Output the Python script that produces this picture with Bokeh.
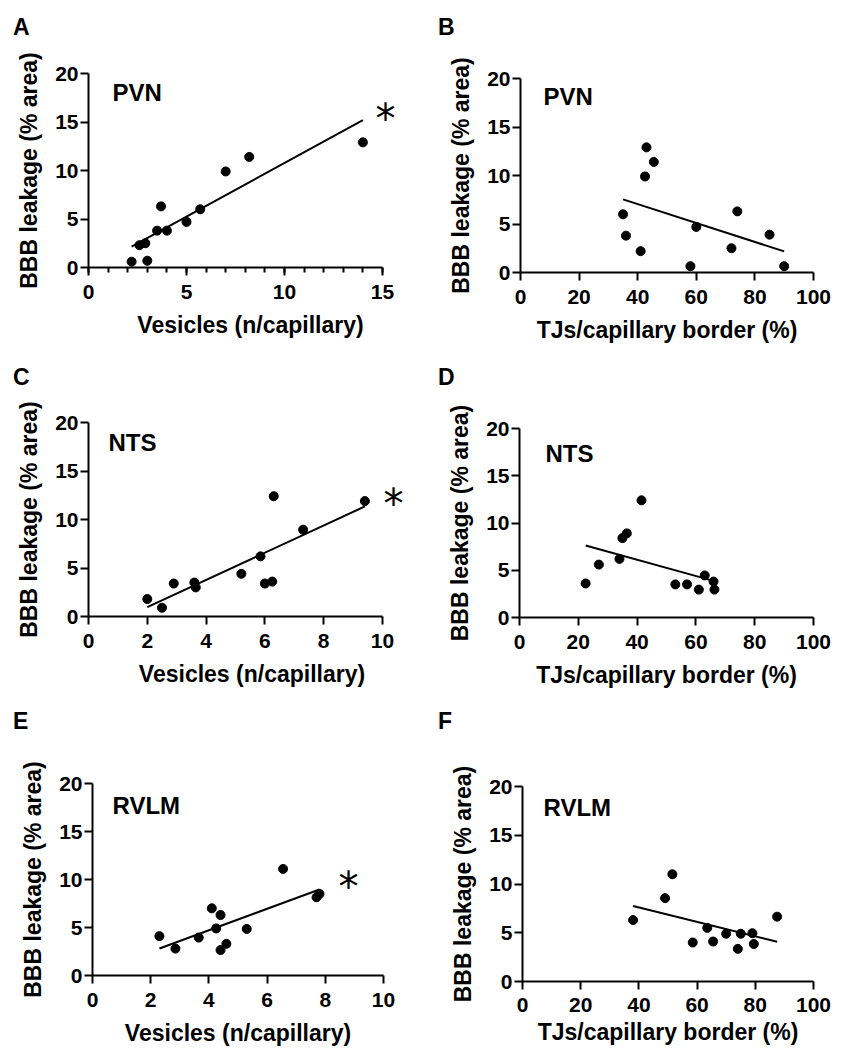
import numpy as np
from bokeh.plotting import figure
from bokeh.models import Range1d, FixedTicker, Label, Div
from bokeh.layouts import row, column
from bokeh.embed import file_html
from bokeh.resources import INLINE

# ---------------- data ----------------
# PVN
ves_pvn_x = [2.2, 3.0, 2.6, 2.9, 3.5, 4.0, 3.7, 5.0, 5.7, 7.0, 8.2, 14.0]
ves_pvn_y = [0.6, 0.7, 2.3, 2.5, 3.8, 3.8, 6.3, 4.7, 6.0, 9.9, 11.4, 12.9]
tj_pvn_x = [35, 36, 41, 42.5, 43, 45.5, 58, 60, 72, 74, 85, 90]
tj_pvn_y = [6.0, 3.8, 2.2, 9.9, 12.9, 11.4, 0.65, 4.7, 2.5, 6.3, 3.9, 0.65]
# NTS
ves_nts_x = [2.0, 2.5, 2.9, 3.6, 3.65, 5.2, 5.85, 6.0, 6.25, 6.3, 7.3, 9.4]
ves_nts_y = [1.8, 0.9, 3.4, 3.5, 3.0, 4.4, 6.2, 3.4, 3.6, 12.4, 8.95, 11.9]
tj_nts_x = [22.5, 27, 34, 35, 36.5, 41.5, 53, 57, 61, 63, 66, 66.3]
tj_nts_y = [3.6, 5.6, 6.2, 8.4, 8.9, 12.4, 3.5, 3.5, 2.95, 4.45, 3.8, 2.95]
# RVLM
ves_rvlm_x = [2.3, 2.85, 3.65, 4.1, 4.25, 4.4, 4.4, 4.6, 5.3, 6.55, 7.7, 7.8]
ves_rvlm_y = [4.1, 2.8, 3.95, 7.0, 4.9, 6.3, 2.65, 3.3, 4.85, 11.1, 8.15, 8.5]
tj_rvlm_x = [38, 49, 51.5, 58.5, 63.5, 65.5, 70, 74, 75, 79, 79.5, 87.5]
tj_rvlm_y = [6.3, 8.55, 11.0, 4.0, 5.5, 4.1, 4.9, 3.35, 4.9, 4.95, 3.85, 6.65]

y_ticks = [0, 5, 10, 15, 20]
ves15_ticks = [0, 5, 10, 15]
ves15_minor = list(range(0, 16))
ves10_ticks = [0, 2, 4, 6, 8, 10]
tj_ticks = [0, 20, 40, 60, 80, 100]

y_label = "BBB leakage (% area)"
ves_label = "Vesicles (n/capillary)"
tj_label = "TJs/capillary border (%)"

FONT = "Liberation Sans"

# ---------------- layout geometry (page pixels) ----------------
LEFT_W, RIGHT_W = 438, 400
ROW_H = [345, 345, 360]
ROW_TOP = [0, 345, 690]
HEAD_H = [45, 50, 55]   # height of the strip holding the panel letter


def build(x, y, xmax, major, minor, xlabel, region, letter, origin, size, head_h,
          frame, frame_right, letter_pos, region_pos, star_pos=None,
          xl_standoff=9, xa_standoff=10):
    """frame = (left, right, top, bottom) page px of the axis box (x 0..xmax, y 0..20)."""
    ox, oy = origin
    W, H = size
    fl, fr, ft, fb = frame
    ppx = (fr - fl) / xmax
    xend = (frame_right - fl) / ppx
    fig_top = oy + head_h
    FH = H - head_h
    mbl = fl - ox
    mbr = W - mbl - (frame_right - fl)
    mbt = ft - fig_top
    mbb = FH - mbt - (fb - ft)
    p = figure(width=W, height=FH, x_range=Range1d(0, xend), y_range=Range1d(0, 20),
               output_backend="svg", toolbar_location=None,
               min_border_left=mbl, min_border_right=mbr,
               min_border_top=mbt, min_border_bottom=mbb,
               outline_line_color=None, background_fill_color="white",
               border_fill_color="white")
    p.xgrid.visible = False
    p.ygrid.visible = False

    p.xaxis.ticker = FixedTicker(ticks=major, minor_ticks=minor)
    p.yaxis.ticker = FixedTicker(ticks=y_ticks, minor_ticks=[])
    p.xaxis.bounds = (0, xmax)
    p.yaxis.bounds = (0, 20)
    p.xaxis.axis_label = xlabel
    p.yaxis.axis_label = y_label
    for ax in (p.xaxis[0], p.yaxis[0]):
        ax.axis_line_width = 2
        ax.axis_line_color = "black"
        ax.major_tick_line_width = 2
        ax.major_tick_line_color = "black"
        ax.major_tick_out = 8
        ax.major_tick_in = 0
        ax.minor_tick_line_width = 2
        ax.minor_tick_line_color = "black"
        ax.minor_tick_out = 5
        ax.minor_tick_in = 0
        ax.major_label_text_font = FONT
        ax.major_label_text_font_style = "bold"
        ax.major_label_text_font_size = "21px"
        ax.major_label_text_color = "black"
        ax.axis_label_text_font = FONT
        ax.axis_label_text_font_style = "bold"
        ax.axis_label_text_font_size = "23px"
        ax.axis_label_text_color = "black"
    p.xaxis.major_label_standoff = xl_standoff
    p.xaxis.axis_label_standoff = xa_standoff
    p.yaxis.major_label_standoff = 2
    p.yaxis.axis_label_standoff = 10

    p.scatter(x, y, size=9, color="black", marker="circle")
    xa = np.array(x, dtype=float)
    ya = np.array(y, dtype=float)
    k, b = np.polyfit(xa, ya, 1)
    xs = np.array([xa.min(), xa.max()])
    p.line(xs, k * xs + b, line_width=2, color="black")

    def to_data(px, py):
        return (px - fl) / ppx, (fb - py) / (fb - ft) * 20

    rx, ry = to_data(*region_pos)
    p.add_layout(Label(x=rx, y=ry, text=region, text_font=FONT, text_font_style="bold",
                       text_font_size="24px", text_color="black",
                       text_align="left", text_baseline="alphabetic"))
    if star_pos is not None:
        sx, sy = to_data(star_pos[0], star_pos[1] + 8)
        p.add_layout(Label(x=sx, y=sy, text="*", text_font="DejaVu Sans",
                           text_font_size="40px", text_color="black",
                           text_align="center", text_baseline="middle"))

    # panel letter in a strip above the figure
    pad_left = letter_pos[0] - ox
    pad_top = letter_pos[1] - oy - 19.5
    head = Div(text=letter, width=W, height=head_h, margin=0,
               styles={"font-family": FONT, "font-size": "23px", "font-weight": "bold",
                       "line-height": "23px", "color": "black",
                       "padding-left": f"{pad_left}px", "padding-top": f"{pad_top}px",
                       "box-sizing": "border-box", "overflow": "hidden"})
    return column(head, p, spacing=0)


pA = build(ves_pvn_x, ves_pvn_y, 15, ves15_ticks, ves15_minor, ves_label, "PVN", "A",
           (0, ROW_TOP[0]), (LEFT_W, ROW_H[0]), HEAD_H[0], (88, 382, 73, 267), 412,
           (13, 35), (112, 92), (385, 110))
pB = build(tj_pvn_x, tj_pvn_y, 100, tj_ticks, [], tj_label, "PVN", "B",
           (LEFT_W, ROW_TOP[0]), (RIGHT_W, ROW_H[0]), HEAD_H[0], (520, 813, 78, 272), 813,
           (438, 35), (543, 96))
pC = build(ves_nts_x, ves_nts_y, 10, ves10_ticks, [], ves_label, "NTS", "C",
           (0, ROW_TOP[1]), (LEFT_W, ROW_H[1]), HEAD_H[1], (88, 382, 422, 616), 415,
           (13, 385), (108, 442), (393, 495))
pD = build(tj_nts_x, tj_nts_y, 100, tj_ticks, [], tj_label, "NTS", "D",
           (LEFT_W, ROW_TOP[1]), (RIGHT_W, ROW_H[1]), HEAD_H[1], (519, 813, 428, 618), 813,
           (438, 385), (545, 453))
pE = build(ves_rvlm_x, ves_rvlm_y, 10, ves10_ticks, [], ves_label, "RVLM", "E",
           (0, ROW_TOP[2]), (LEFT_W, ROW_H[2]), HEAD_H[2], (92, 383, 783, 975), 383,
           (13, 729), (112, 805), (348, 878))
pF = build(tj_rvlm_x, tj_rvlm_y, 100, tj_ticks, [], tj_label, "RVLM", "F",
           (LEFT_W, ROW_TOP[2]), (RIGHT_W, ROW_H[2]), HEAD_H[2], (522, 813, 786, 981), 813,
           (438, 729), (543, 807), xl_standoff=8, xa_standoff=4)

layout = column(row(pA, pB, spacing=0),
                row(pC, pD, spacing=0),
                row(pE, pF, spacing=0), spacing=0)

with open("out.html", "w") as f:
    f.write(file_html(layout, INLINE))
